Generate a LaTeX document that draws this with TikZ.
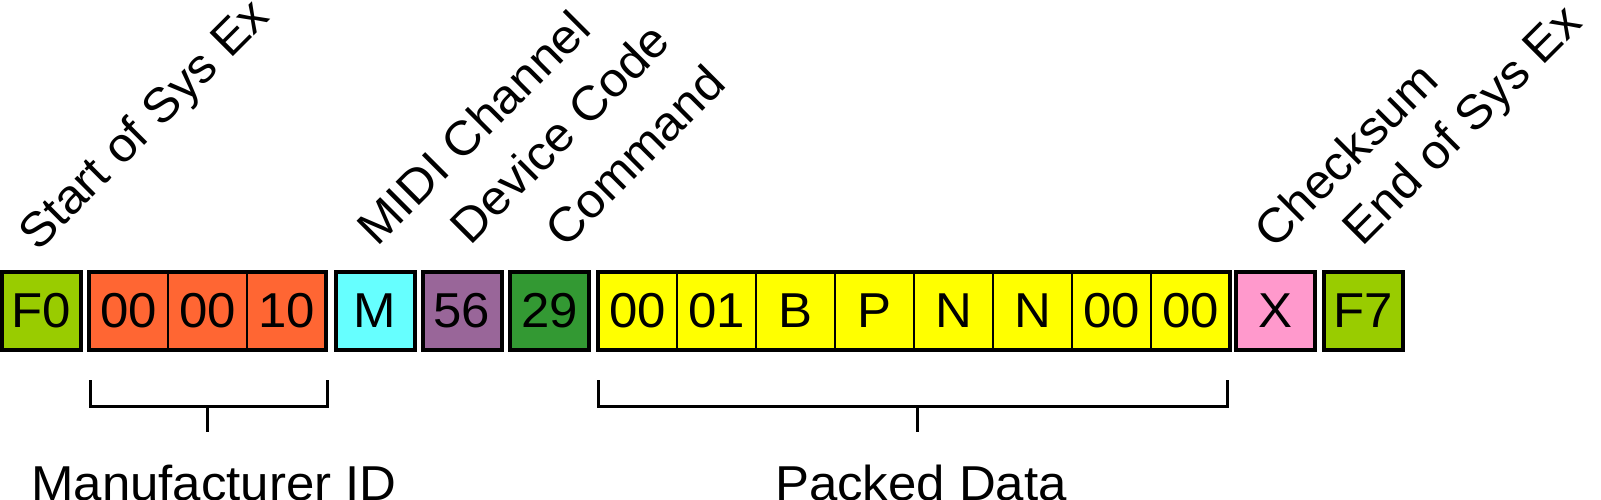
\documentclass[tikz,border=0pt]{standalone}
\usepackage{fontspec}
\setmainfont[FakeStretch=1.04]{Liberation Sans}
\usetikzlibrary{calc}
\definecolor{cLime}{HTML}{99CC00}
\definecolor{cOrange}{HTML}{FF6633}
\definecolor{cCyan}{HTML}{66FFFF}
\definecolor{cPurple}{HTML}{996699}
\definecolor{cGreen}{HTML}{339933}
\definecolor{cYellow}{HTML}{FFFF00}
\definecolor{cPink}{HTML}{FF99CC}
\begin{document}
\begin{tikzpicture}[x=1pt,y=-1pt,
  cell/.style={draw=black,line width=1.5pt,minimum width=79pt,minimum height=78pt,
    inner sep=0pt,outer sep=0pt,font=\fontsize{49}{58}\selectfont,anchor=center},
  single/.style={cell,line width=4pt},
  grpframe/.style={draw=black,line width=4pt},
  lbl/.style={rotate=45,anchor=base west,inner sep=0pt,outer sep=0pt,font=\fontsize{48}{58}\selectfont},
  brk/.style={draw=black,line width=3pt},
  bottomlbl/.style={anchor=base,inner sep=0pt,font=\fontsize{49}{58}\selectfont}]
\fill[white] (0,0) rectangle (1601,500);
\useasboundingbox (0,0) rectangle (1601,500);

% boxes
\node[single,fill=cLime] (f0) at (41.5,311) {F0};
\node[cell,fill=cOrange] (o1) at (128.5,311) {00};
\node[cell,fill=cOrange] (o2) at (207.5,311) {00};
\node[cell,fill=cOrange] (o3) at (286.5,311) {10};
\draw[grpframe] (o1.north west) rectangle (o3.south east);
\node[single,fill=cCyan] (m) at (375,311) {M};
\node[single,fill=cPurple] (dev) at (462,311) {56};
\node[single,fill=cGreen] (cmd) at (549.5,311) {29};
\node[cell,fill=cYellow] (y1) at (637.5,311) {00};
\node[cell,fill=cYellow] (y2) at (716.5,311) {01};
\node[cell,fill=cYellow] (y3) at (795.5,311) {B};
\node[cell,fill=cYellow] (y4) at (874.5,311) {P};
\node[cell,fill=cYellow] (y5) at (953.5,311) {N};
\node[cell,fill=cYellow] (y6) at (1032.5,311) {N};
\node[cell,fill=cYellow] (y7) at (1111.5,311) {00};
\node[cell,fill=cYellow] (y8) at (1190.5,311) {00};
\draw[grpframe] (y1.north west) rectangle (y8.south east);
\node[single,fill=cPink] (chk) at (1275,311) {X};
\node[single,fill=cLime] (f7) at (1363.5,311) {F7};

% rotated labels
\node[lbl] (lstart) at (38,252) {Start of Sys Ex};
\node[lbl] (lmidi) at (377.5,247.5) {MIDI Channel};
\node[lbl] (ldev) at (470.5,246) {Device Code};
\node[lbl] (lcmd) at (565,249) {Command};
\node[lbl] (lchk) at (1274,250) {Checksum};
\node[lbl] (lend) at (1362.5,247) {End of Sys Ex};

% brackets
\coordinate (mfrL) at ([shift={(1,30)}]o1.south west);
\coordinate (mfrR) at ([shift={(1,30)}]o3.south east);
\coordinate (mfrS) at ($(o1.south west)!0.5!(o3.south east)+(0,56)$);
\draw[brk] (mfrL) -- ++(0,26) -| (mfrR);
\draw[brk] (mfrS) -- ++(0,26);
\node[bottomlbl] (mfr) at (214,500) {Manufacturer ID};

\coordinate (pkL) at ([shift={(0,30)}]y1.south west);
\coordinate (pkR) at ([shift={(-3,30)}]y8.south east);
\coordinate (pkS) at ($(y1.south west)!0.5!(y8.south east)+(3,56)$);
\draw[brk] (pkL) -- ++(0,26) -| (pkR);
\draw[brk] (pkS) -- ++(0,26);
\node[bottomlbl] (pk) at (921,500) {Packed Data};
\end{tikzpicture}
\end{document}
